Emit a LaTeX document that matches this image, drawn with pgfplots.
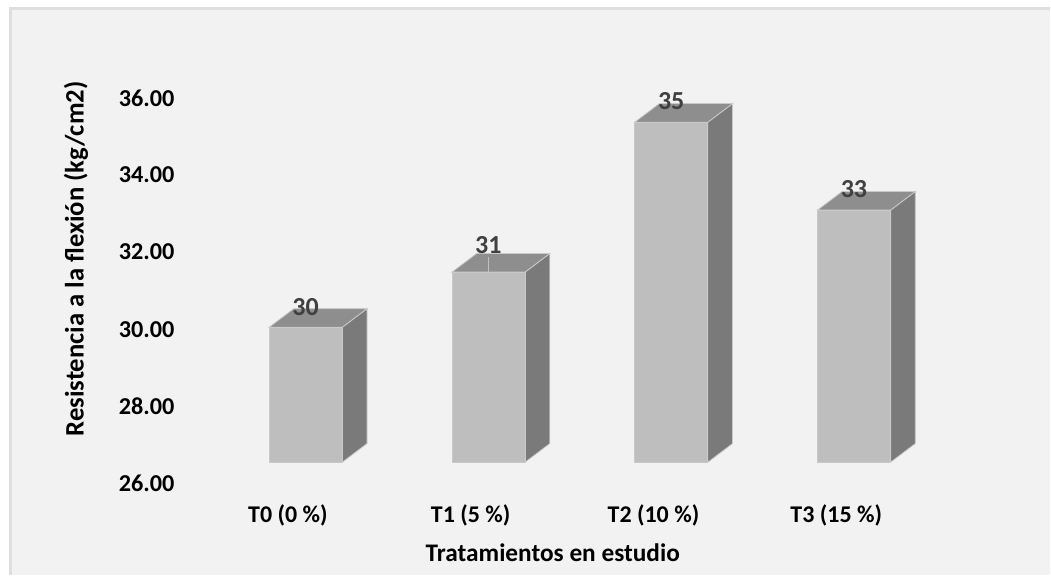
\documentclass[border=0pt]{standalone}
\usepackage{fontspec}
\setmainfont{Carlito}
\usepackage{pgfplots}
\pgfplotsset{compat=1.18}
\definecolor{panel}{HTML}{F2F2F2}
\definecolor{panelborder}{HTML}{DEDEDE}
\definecolor{barfront}{HTML}{BEBEBE}
\definecolor{bartop}{HTML}{8E8E8E}
\definecolor{barside}{HTML}{7A7A7A}
\definecolor{baredge}{HTML}{C9C9C9}
\definecolor{valuetext}{HTML}{404040}
\pgfplotsset{
  front/.style={draw=baredge, line width=0.6pt, fill=barfront},
  topface/.style={draw=baredge, line width=0.6pt, fill=bartop},
  sideface/.style={draw=baredge, line width=0.6pt, fill=barside},
  valuelabels/.style={
    draw=none, mark=none, point meta=y,
    nodes near coords={\pgfmathprintnumber[fixed,precision=0]{\pgfplotspointmeta}},
    every node near coord/.append style={
      anchor=center, inner sep=0pt, text=valuetext,
      font=\fontsize{19.5pt}{19.5pt}\selectfont\bfseries, yshift=#1}
  }
}
\begin{document}
\begin{tikzpicture}
% chart panel
\fill[white] (-147.56pt,-69pt) rectangle (640.69pt,363pt);
\fill[panel] (-139.5pt,-69pt) rectangle (640.69pt,356.6pt);
\draw[panelborder, line width=1.9pt] (-139.5pt,-69pt) -- (-139.5pt,356.6pt) -- (640.69pt,356.6pt);
\begin{axis}[
  at={(0,0)}, anchor=south west,
  scale only axis, width=549pt, height=289.5pt,
  xmin=-0.5, xmax=3.5, ymin=26, ymax=36,
  clip=false,
  axis line style={draw=none},
  tick style={draw=none},
  xtick={0,1,2,3},
  xticklabels={T0 (0 \%),T1 (5 \%),T2 (10 \%),T3 (15 \%)},
  ytick={26,28,30,32,34,36},
  /pgf/number format/.cd, fixed, fixed zerofill, precision=2, assume math mode=true,
  /pgfplots/.cd,
  yticklabel style={anchor=east, xshift=-13pt, font=\fontsize{18.2pt}{18.2pt}\selectfont\bfseries},
  xticklabel style={anchor=base, yshift=-29.5pt, font=\fontsize{18pt}{18pt}\selectfont\bfseries},
  xlabel={Tratamientos en estudio},
  ylabel={Resistencia a la flexión (kg/cm2)},
  xlabel style={at={(axis description cs:0.4873,-0.181)}, anchor=center, font=\fontsize{19pt}{19pt}\selectfont\bfseries},
  ylabel style={at={(axis description cs:-0.1648,0.582)}, anchor=center, rotate=0, font=\fontsize{20pt}{20pt}\selectfont\bfseries},
]
% T0
\addplot[sideface] coordinates {(0.2975,26.55)(0.4328,27.034)(0.4328,30.534)(0.2975,30.05)} -- cycle;
\addplot[topface] coordinates {(-0.1025,30.05)(0.0328,30.534)(0.4328,30.534)(0.2975,30.05)} -- cycle;
\addplot[front] coordinates {(-0.1025,26.55)(0.2975,26.55)(0.2975,30.05)(-0.1025,30.05)} -- cycle;
% T1
\addplot[sideface] coordinates {(1.2975,26.55)(1.4328,27.034)(1.4328,31.964)(1.2975,31.48)} -- cycle;
\addplot[topface] coordinates {(0.8975,31.48)(1.0328,31.964)(1.4328,31.964)(1.2975,31.48)} -- cycle;
\addplot[front] coordinates {(0.8975,26.55)(1.2975,26.55)(1.2975,31.48)(0.8975,31.48)} -- cycle;
\addplot[draw=baredge!85!bartop, line width=1.3pt] coordinates {(1.0975,31.48)(1.0975,31.88)};
% T2
\addplot[sideface] coordinates {(2.2975,26.55)(2.4328,27.034)(2.4328,35.854)(2.2975,35.37)} -- cycle;
\addplot[topface] coordinates {(1.8975,35.37)(2.0328,35.854)(2.4328,35.854)(2.2975,35.37)} -- cycle;
\addplot[front] coordinates {(1.8975,26.55)(2.2975,26.55)(2.2975,35.37)(1.8975,35.37)} -- cycle;
% T3
\addplot[sideface] coordinates {(3.2975,26.55)(3.4328,27.034)(3.4328,33.574)(3.2975,33.09)} -- cycle;
\addplot[topface] coordinates {(2.8975,33.09)(3.0328,33.574)(3.4328,33.574)(3.2975,33.09)} -- cycle;
\addplot[front] coordinates {(2.8975,26.55)(3.2975,26.55)(3.2975,33.09)(2.8975,33.09)} -- cycle;
% value labels
\addplot[valuelabels=15.5pt] coordinates {(0.097,30.05)(2.097,35.37)(3.097,33.09)};
\addplot[valuelabels=20pt] coordinates {(1.097,31.48)};
\end{axis}
\end{tikzpicture}
\end{document}
